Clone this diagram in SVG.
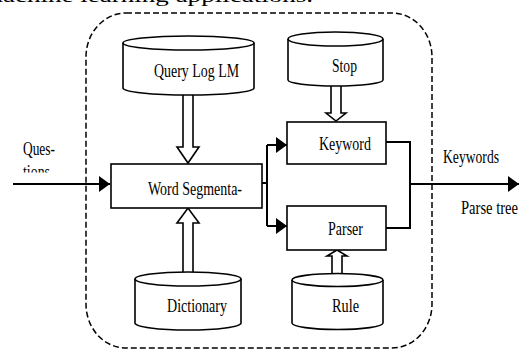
<svg xmlns="http://www.w3.org/2000/svg" width="519" height="349" viewBox="0 0 519 349">
<style>
.s{fill:#fff;stroke:#000;stroke-width:1.6}
.c{fill:none;stroke:#000;stroke-width:2}
.t{font-family:"Liberation Serif","Times New Roman",serif;font-size:19px;fill:#000}
.b{fill:none;stroke:#000;stroke-width:1.5;stroke-dasharray:6 3}
</style>
<defs>
<marker id="ah" markerWidth="11" markerHeight="16" refX="11" refY="8" orient="auto" markerUnits="userSpaceOnUse">
<path d="M0,0 L11,8 L0,16 Z" fill="#000"/>
</marker>
<clipPath id="clipQ"><rect x="0" y="160" width="90" height="12.5"/></clipPath>
</defs>
<rect width="519" height="349" fill="#fff"/>
<text class="t" x="-18" y="2" font-size="26" textLength="331" lengthAdjust="spacingAndGlyphs">machine learning applications.</text>
<rect id="boundary" class="b" x="86" y="13" width="346" height="335" rx="40" ry="44"/>
<g id="connectors">
<path class="c" d="M13,184 H110" marker-end="url(#ah)"/>
<path class="c" d="M262,183 H267 M267,145 V226 M267,145 H287" marker-end="url(#ah)"/>
<path class="c" d="M267,226 H287" marker-end="url(#ah)"/>
<path class="c" d="M386,142 H410 V228 H386"/>
<path class="c" d="M410,184 H519" marker-end="url(#ah)"/>
<path class="s" d="M183,94 V147 H177 L188,163 L199,147 H193 V94"/>
<path class="s" d="M183,274 V223 H177 L188,208 L199,223 H193 V274"/>
<path class="s" d="M331,85 V113 H326 L336,121 L346,113 H341 V85"/>
<path class="s" d="M332,275 V256 H327 L337,250 L347,256 H342 V275"/>
</g>
<g id="querylog">
<path class="s" d="M123,43 V88 A65.5,7 0 0 0 254,88 V43"/>
<ellipse class="s" cx="188.5" cy="43" rx="65.5" ry="7"/>
<text class="t" x="154" y="77" textLength="85" lengthAdjust="spacingAndGlyphs">Query Log LM</text>
</g>
<g id="stop">
<path class="s" d="M288,39 V80 A47.5,6 0 0 0 383,80 V39"/>
<ellipse class="s" cx="335.5" cy="39" rx="47.5" ry="7"/>
<text class="t" x="332" y="72" textLength="25" lengthAdjust="spacingAndGlyphs">Stop</text>
</g>
<g id="wordseg">
<rect class="s" x="111" y="164" width="151" height="44"/>
<text class="t" x="148" y="195" textLength="94" lengthAdjust="spacingAndGlyphs">Word Segmenta-</text>
</g>
<g id="keyword">
<rect class="s" x="287" y="122" width="99" height="42"/>
<text class="t" x="319" y="150" textLength="52" lengthAdjust="spacingAndGlyphs">Keyword</text>
</g>
<g id="parser">
<rect class="s" x="287" y="206" width="99" height="44"/>
<text class="t" x="328" y="235" textLength="35" lengthAdjust="spacingAndGlyphs">Parser</text>
</g>
<g id="dictionary">
<path class="s" d="M135,279 V323 A53,7 0 0 0 241,323 V279"/>
<ellipse class="s" cx="188" cy="279" rx="53" ry="7"/>
<text class="t" x="167" y="312" textLength="60" lengthAdjust="spacingAndGlyphs">Dictionary</text>
</g>
<g id="rule">
<path class="s" d="M292,280 V323 A45.5,6.5 0 0 0 383,323 V280"/>
<ellipse class="s" cx="337.5" cy="280" rx="45.5" ry="6.5"/>
<text class="t" x="332" y="312" textLength="27" lengthAdjust="spacingAndGlyphs">Rule</text>
</g>
<g id="labels">
<text class="t" x="23" y="155" textLength="32" lengthAdjust="spacingAndGlyphs">Ques-</text>
<text class="t" x="23" y="178" textLength="27" lengthAdjust="spacingAndGlyphs" clip-path="url(#clipQ)">tions</text>
<text class="t" x="443" y="163" textLength="56" lengthAdjust="spacingAndGlyphs">Keywords</text>
<text class="t" x="461" y="214" textLength="57" lengthAdjust="spacingAndGlyphs">Parse tree</text>
</g>
</svg>
